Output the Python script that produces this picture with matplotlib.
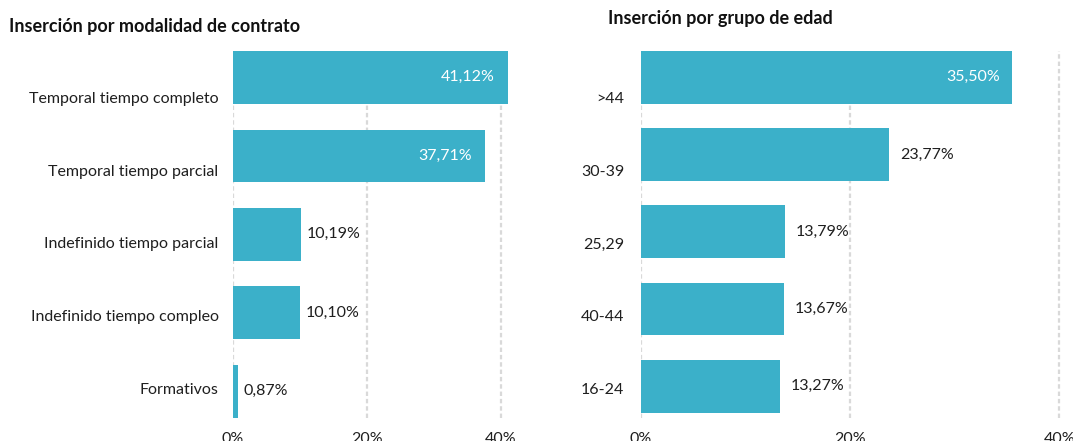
import numpy as np
import matplotlib
matplotlib.use("Agg")
import matplotlib.pyplot as plt

plt.rcParams['font.family'] = ['Lato', 'DejaVu Sans']

# data
contrato_labels = ['Temporal tiempo completo', 'Temporal tiempo parcial',
                   'Indefinido tiempo parcial', 'Indefinido tiempo compleo', 'Formativos']
contrato_values = [41.12, 37.71, 10.19, 10.10, 0.87]

edad_labels = ['>44', '30-39', '25,29', '40-44', '16-24']
edad_values = [35.50, 23.77, 13.79, 13.67, 13.27]

x_ticks = [0, 20, 40]

BAR = '#3bb0c9'
GRID = '#d9d9d9'
TXT = '#1f1f1f'
W, H = 1073, 441
FS = 11.5

fig = plt.figure(figsize=(W / 100, H / 100), dpi=100)


def fmt(v):
    return f"{v:.2f}".replace('.', ',') + '%'


def panel(rect_px, labels, values, xmax, ylim, bar_h, out_pad, in_pad, lab_pad):
    x0, x1, y0, y1 = rect_px
    ax = fig.add_axes([x0 / W, 1 - y1 / H, (x1 - x0) / W, (y1 - y0) / H])
    ax.set_xlim(0, xmax)
    ax.set_ylim(*ylim)
    for s in ax.spines.values():
        s.set_visible(False)

    ax.set_axisbelow(True)
    for t in x_ticks:
        ax.axvline(t, color=GRID, lw=1.6, ls=(0, (2, 1.3)), zorder=0)

    y = np.arange(len(values))
    ax.barh(y, values, height=bar_h, color=BAR, zorder=2)

    for yi, v in zip(y, values):
        if v > 30:
            ax.annotate(fmt(v), (v, yi), xytext=(-in_pad, 0), textcoords='offset points',
                        ha='right', va='center', color='white', fontsize=FS, zorder=3)
        else:
            ax.annotate(fmt(v), (v, yi), xytext=(out_pad, 0), textcoords='offset points',
                        ha='left', va='center', color=TXT, fontsize=FS, zorder=3)

    ax.set_xticks(x_ticks)
    ax.set_xticklabels([f"{t}%" for t in x_ticks], fontsize=FS, color=TXT)
    ax.tick_params(axis='x', length=0, pad=10)

    # category labels sit on their own evenly spaced rows
    rows_px = np.linspace(98, 388, len(labels))
    inv = ax.transData.inverted()
    ty = [inv.transform((0, H - r))[1] for r in rows_px]
    ax.set_yticks(ty)
    ax.set_yticklabels(labels, fontsize=FS, color=TXT)
    ax.tick_params(axis='y', length=0, pad=lab_pad)
    return ax


panel((232.5, 510, 51, 418), contrato_labels, contrato_values,
      (510 - 232.5) / 6.705, (4.34, -0.336), 0.671, 4, 10, 10)
panel((640.7, 1070, 51, 418), edad_labels, edad_values,
      (1070 - 640.7) / 10.465, (4.41, -0.341), 0.682, 8, 9, 12)

fig.text(9 / W, 1 - 26.7 / H, 'Inserción por modalidad de contrato',
         fontsize=13, fontweight='bold', color='#111111', va='center', ha='left')
fig.text(608 / W, 1 - 18.5 / H, 'Inserción por grupo de edad',
         fontsize=13, fontweight='bold', color='#111111', va='center', ha='left')

fig.savefig('out.png', dpi=100)
